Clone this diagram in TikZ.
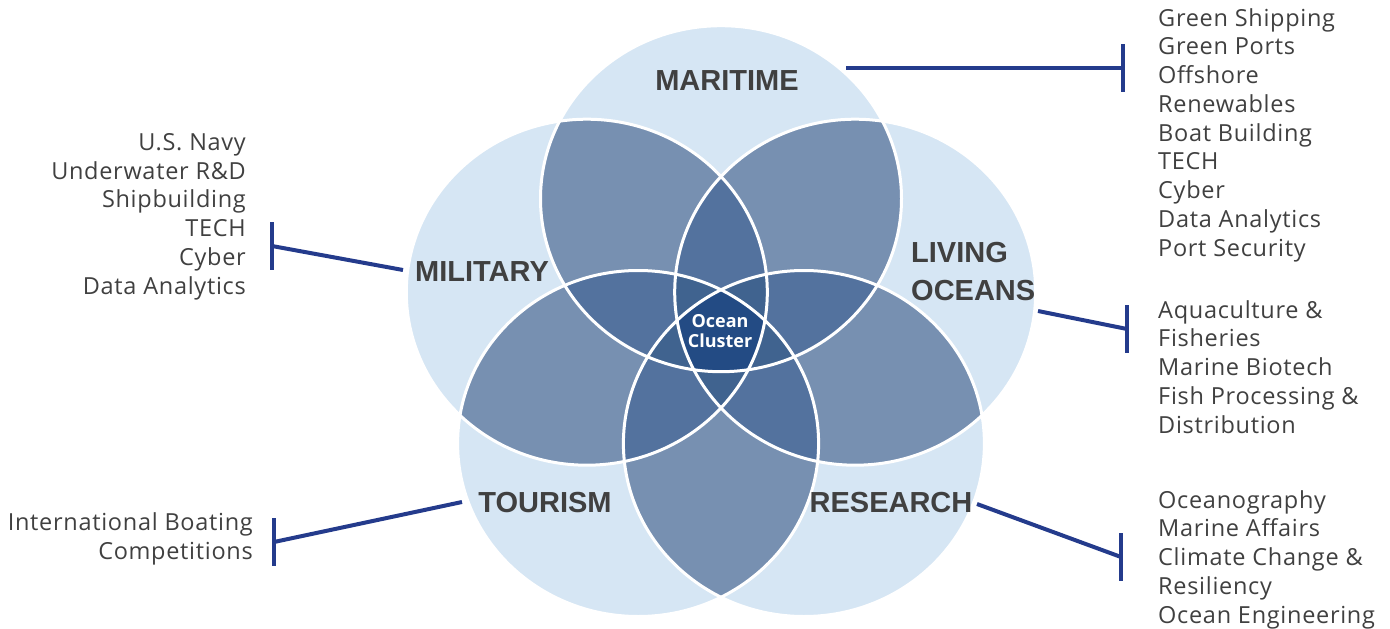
\documentclass[tikz,border=0pt]{standalone}
\usepackage{fontspec}
\setmainfont{Open Sans}
\newfontfamily\lstfont[LetterSpace=3]{Open Sans}
\newfontfamily\lblfont{Liberation Sans}
\usetikzlibrary{calc}
\definecolor{cLa}{HTML}{D6E6F4}
\definecolor{cLb}{HTML}{7790B1}
\definecolor{cLc}{HTML}{53729E}
\definecolor{cLd}{HTML}{40638F}
\definecolor{cLe}{HTML}{234B84}
\definecolor{txtgray}{HTML}{404040}
\definecolor{connblue}{HTML}{243B8C}
\begin{document}
\begin{tikzpicture}[x=1pt,y=-1pt,
  ell/.style={x radius=180.5pt,y radius=173pt},
  outline/.style={draw=white,line width=3pt},
  lbl/.style={font=\lblfont\bfseries\fontsize{29}{38}\selectfont, text=txtgray, inner sep=0pt},
  lst/.style={font=\lstfont\fontsize{23.5}{28.75}\selectfont, text=txtgray, inner sep=0pt},
  connline/.style={draw=connblue, line width=4pt},
  barline/.style={draw=connblue, line width=4pt},
]
\useasboundingbox (0,0) rectangle (1390,629);
% circle centres
\coordinate (A) at (721,198.7);   % Maritime
\coordinate (B) at (855.2,292.2); % Living Oceans
\coordinate (C) at (803.9,443.5); % Research
\coordinate (D) at (638.1,443.5); % Tourism
\coordinate (E) at (586.8,292.2); % Military
% one set
\foreach \c in {A,B,C,D,E} \fill[cLa] (\c) ellipse[ell];
% two sets
\foreach \a/\b in {A/B,A/C,A/D,A/E,B/C,B/D,B/E,C/D,C/E,D/E}{
  \begin{scope}\clip (\a) ellipse[ell]; \fill[cLb] (\b) ellipse[ell];\end{scope}
}
% three sets
\foreach \a/\b/\c in {A/B/C,A/B/D,A/B/E,A/C/D,A/C/E,A/D/E,B/C/D,B/C/E,B/D/E,C/D/E}{
  \begin{scope}\clip (\a) ellipse[ell]; \clip (\b) ellipse[ell]; \fill[cLc] (\c) ellipse[ell];\end{scope}
}
% four sets
\foreach \a/\b/\c/\d in {A/B/C/D,A/B/C/E,A/B/D/E,A/C/D/E,B/C/D/E}{
  \begin{scope}\clip (\a) ellipse[ell]; \clip (\b) ellipse[ell]; \clip (\c) ellipse[ell]; \fill[cLd] (\d) ellipse[ell];\end{scope}
}
% five sets
\begin{scope}\clip (A) ellipse[ell]; \clip (B) ellipse[ell]; \clip (C) ellipse[ell]; \clip (D) ellipse[ell]; \fill[cLe] (E) ellipse[ell];\end{scope}
% outlines
\foreach \c in {A,B,C,D,E} \draw[outline] (\c) ellipse[ell];

% labels
\node[lbl] (lMar) at (727,81) {MARITIME};
\node[lbl] (lMil) at (482,272) {MILITARY};
\node[lbl, align=left, anchor=west] (lLiv) at (911,271.5) {LIVING\\OCEANS};
\node[lbl] (lTou) at (545,503) {TOURISM};
\node[lbl] (lRes) at (891,503) {RESEARCH};
\node[font=\bfseries\fontsize{18}{20}\selectfont, text=white, align=center, inner sep=0pt] (oc) at (720,331) {Ocean\\Cluster};

% connectors
\coordinate (mS) at (846,68);   \coordinate (mE) at (1123,68);
\coordinate (yS) at (403,270);  \coordinate (yE) at (272,246);
\coordinate (vS) at (1038,311); \coordinate (vE) at (1127,329);
\coordinate (tS) at (462,502);  \coordinate (tE) at (274,542);
\coordinate (rS) at (977,504);  \coordinate (rE) at (1121,557);
\foreach \p in {m,y,v,t,r}{
  \draw[connline] (\p S) -- (\p E);
  \draw[barline] ($(\p E)+(0,-24)$) -- ($(\p E)+(0,24)$);
}

% lists (base anchor = baseline of the last line)
\node[lst, anchor=base west, align=left] (tMar) at (1158,256)
  {Green Shipping\\Green Ports\\Offshore\\Renewables\\Boat Building\\TECH\\Cyber\\Data Analytics\\Port Security};
\node[lst, anchor=base west, align=left] (tLiv) at (1158,433)
  {Aquaculture \&\\Fisheries\\Marine Biotech\\Fish Processing \&\\Distribution};
\node[lst, anchor=base west, align=left] (tRes) at (1158,623)
  {Oceanography\\Marine Affairs\\Climate Change \&\\Resiliency\\Ocean Engineering};
\node[lst, anchor=base east, align=right] (tMil) at (246,294)
  {U.S. Navy\\Underwater R\&D\\Shipbuilding\\TECH\\Cyber\\Data Analytics};
\node[lst, anchor=base east, align=right] (tTou) at (253,559)
  {International Boating\\Competitions};
\end{tikzpicture}
\end{document}
